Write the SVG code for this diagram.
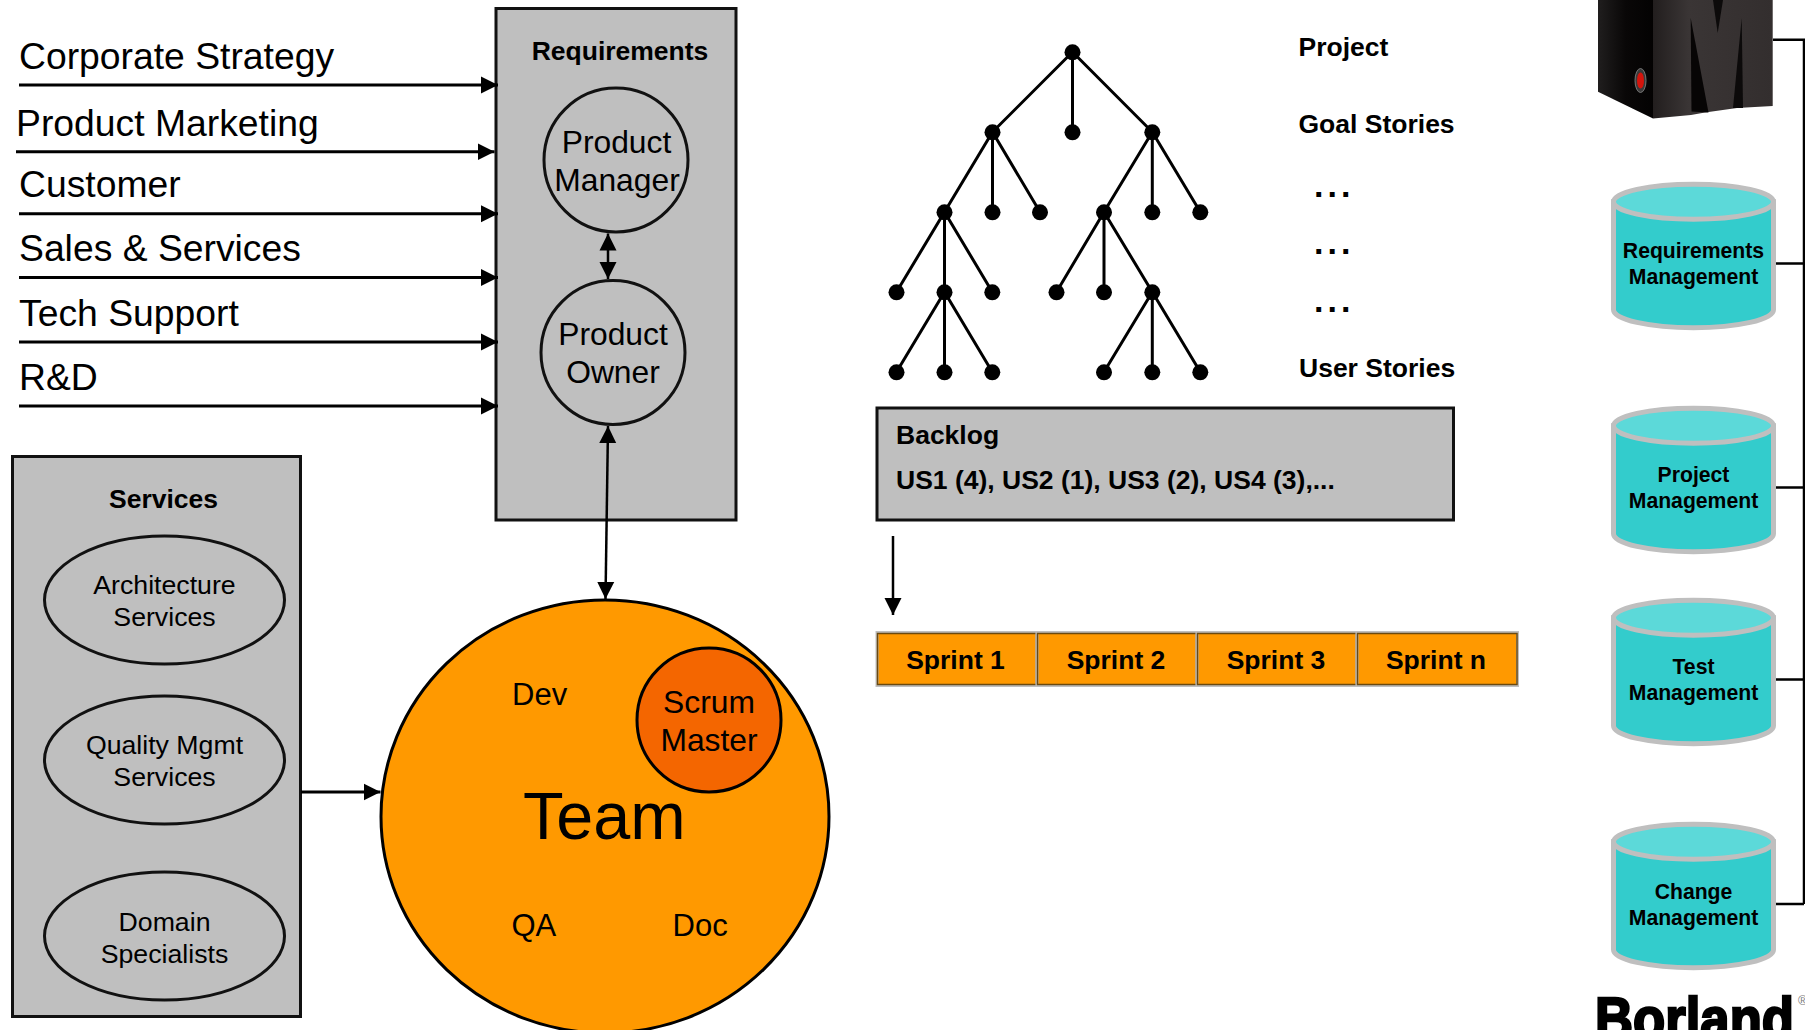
<svg xmlns="http://www.w3.org/2000/svg" width="1805" height="1030" viewBox="0 0 1805 1030">
<style>
text{font-family:"Liberation Sans",Arial,sans-serif;fill:#000}
.big{font-size:37.3px}
.b{font-weight:bold;font-size:26.5px}
.m{font-size:31.8px;text-anchor:middle}
.s{font-size:26.7px;text-anchor:middle}
.c{font-weight:bold;font-size:21.2px;text-anchor:middle}
.mid{text-anchor:middle}
.dd{font-size:34px;font-weight:bold;letter-spacing:4px}
.box{fill:#BFBFBF;stroke:#111;stroke-width:3}
.oval{fill:#BFBFBF;stroke:#111;stroke-width:3}
.sp{fill:#FF9900;stroke:#BFBFBF;stroke-width:3}
.spi{fill:none;stroke:#6B4A10;stroke-width:1.5}
.cb{fill:#33CCCC;stroke:#BFBFBF;stroke-width:5}
.ct{fill:#5CD9D9;stroke:#BFBFBF;stroke-width:5}
.dot{fill:#000}
.e{stroke:#000;stroke-width:3;fill:none}
.a{stroke:#000;stroke-width:3;fill:none;marker-end:url(#ah)}
.d{stroke:#000;stroke-width:2.5;fill:none;marker-start:url(#ah);marker-end:url(#ah)}
.cn{stroke:#000;stroke-width:2.5;fill:none}
</style>
<defs>
<marker id="ah" markerUnits="userSpaceOnUse" markerWidth="18" markerHeight="18" refX="17" refY="9" orient="auto-start-reverse" viewBox="0 0 18 18"><path d="M0 0.5L17 9L0 17.5Z" fill="#000"/></marker>
<linearGradient id="lf" x1="0" x2="1" y1="0" y2="0"><stop offset="0" stop-color="#201e1e"/><stop offset="0.45" stop-color="#090707"/><stop offset="1" stop-color="#020101"/></linearGradient>
<linearGradient id="ff" x1="0" x2="1" y1="0" y2="0"><stop offset="0" stop-color="#221e1e"/><stop offset="0.3" stop-color="#3a3535"/><stop offset="1" stop-color="#332e2e"/></linearGradient>
<g id="cyl">
<path class="cb" d="M1613.5 20V128A80 18 0 0 0 1773.5 128V20Z"/>
<ellipse class="ct" cx="1693.5" cy="20" rx="80" ry="17.5"/>
</g>
</defs>
<rect width="1805" height="1030" fill="#fff"/>

<g id="labels-in">
<text class="big" x="19" y="69">Corporate Strategy</text>
<text class="big" x="16" y="136">Product Marketing</text>
<text class="big" x="19" y="197">Customer</text>
<text class="big" x="19" y="261">Sales &amp; Services</text>
<text class="big" x="19" y="325.5">Tech Support</text>
<text class="big" x="19" y="389.5">R&amp;D</text>
</g>

<g id="requirements">
<rect class="box" x="496" y="8.5" width="240" height="511.5"/>
<text class="b mid" x="620" y="60">Requirements</text>
</g>
<g id="product-manager">
<circle class="oval" cx="616" cy="160" r="72"/>
<text class="m" x="616.5" y="153">Product</text>
<text class="m" x="617" y="191">Manager</text>
</g>
<g id="product-owner">
<circle class="oval" cx="613" cy="352.5" r="72"/>
<text class="m" x="613" y="345">Product</text>
<text class="m" x="613" y="383">Owner</text>
</g>

<g id="services">
<rect class="box" x="12.5" y="456.5" width="288" height="560"/>
<text class="b mid" x="163.5" y="507.5">Services</text>
</g>
<g id="architecture-services">
<ellipse class="oval" cx="164.5" cy="600" rx="120" ry="64"/>
<text class="s" x="164.5" y="594">Architecture</text>
<text class="s" x="164.5" y="626">Services</text>
</g>
<g id="quality-services">
<ellipse class="oval" cx="164.5" cy="760" rx="120" ry="64"/>
<text class="s" x="164.5" y="754">Quality Mgmt</text>
<text class="s" x="164.5" y="786">Services</text>
</g>
<g id="domain-specialists">
<ellipse class="oval" cx="164.5" cy="936" rx="120" ry="64"/>
<text class="s" x="164.5" y="931">Domain</text>
<text class="s" x="164.5" y="963">Specialists</text>
</g>

<g id="team">
<ellipse cx="605" cy="816.5" rx="224" ry="216.5" fill="#FF9900" stroke="#000" stroke-width="3"/>
<text x="523" y="839" font-size="66.5">Team</text>
<text x="512" y="705" font-size="31">Dev</text>
<text x="511.5" y="936" font-size="31">QA</text>
<text x="672.5" y="936" font-size="31">Doc</text>
</g>
<g id="scrum-master">
<circle cx="709" cy="720" r="72" fill="#F46600" stroke="#000" stroke-width="3"/>
<text class="m" x="709" y="713">Scrum</text>
<text class="m" x="709" y="751">Master</text>
</g>

<g id="backlog">
<rect class="box" x="877" y="408" width="576.5" height="112"/>
<text class="b" x="896" y="444">Backlog</text>
<text class="b" x="896" y="489">US1 (4), US2 (1), US3 (2), US4 (3),...</text>
</g>
<g id="sprint-1">
<rect class="sp" x="877" y="632.5" width="160" height="53"/><rect class="spi" x="877.5" y="633.5" width="159" height="51"/>
<text class="b mid" x="955.5" y="669">Sprint 1</text>
</g>
<g id="sprint-2">
<rect class="sp" x="1037" y="632.5" width="160" height="53"/><rect class="spi" x="1037.5" y="633.5" width="159" height="51"/>
<text class="b mid" x="1116" y="669">Sprint 2</text>
</g>
<g id="sprint-3">
<rect class="sp" x="1197" y="632.5" width="160" height="53"/><rect class="spi" x="1197.5" y="633.5" width="159" height="51"/>
<text class="b mid" x="1276" y="669">Sprint 3</text>
</g>
<g id="sprint-n">
<rect class="sp" x="1357" y="632.5" width="160.5" height="53"/><rect class="spi" x="1357.5" y="633.5" width="159.5" height="51"/>
<text class="b mid" x="1436" y="669">Sprint n</text>
</g>

<g id="levels">
<text class="b" x="1298.5" y="56">Project</text>
<text class="b" x="1298.5" y="133">Goal Stories</text>
<text class="dd" x="1314" y="196.5">...</text>
<text class="dd" x="1314" y="254">...</text>
<text class="dd" x="1314" y="311.5">...</text>
<text class="b" x="1299" y="377">User Stories</text>
</g>

<g id="connectors">
<path class="a" d="M19 85H498"/>
<path class="a" d="M16 151.7H494.5"/>
<path class="a" d="M19 213.8H498"/>
<path class="a" d="M19 277.6H498"/>
<path class="a" d="M19 342H498"/>
<path class="a" d="M19 406H498"/>
<path class="d" d="M608 233.5V279"/>
<path class="d" d="M608 426L605.5 599"/>
<path class="a" d="M301 792H380.5"/>
<path class="a" style="stroke-width:2.5" d="M893 536V615"/>
<path class="cn" d="M1773 39.7H1804V904M1773 263.5H1804M1773 487.5H1804M1773 679.5H1804M1773 904H1804"/>
<path class="e" d="M1072.5 52V132M1072.5 52L992.5 132M1072.5 52L1152.3 132M992.5 132V212M992.5 132L944.5 212M992.5 132L1040 212M1152.3 132V212M1152.3 132L1104 212M1152.3 132L1200.3 212M944.5 212V372M944.5 212L896.5 292M944.5 212L992.3 292M1104 212V292M1104 212L1056.5 292M1104 212L1152.3 292M944.5 292L896.5 372M944.5 292L992.3 372M1152.3 292V372M1152.3 292L1104 372M1152.3 292L1200.3 372"/>
</g>

<g id="tree">
<g id="t0"><circle class="dot" cx="1072.5" cy="52.3" r="8"/></g>
<g id="t1"><circle class="dot" cx="992.5" cy="132.3" r="8"/></g>
<g id="t2"><circle class="dot" cx="1072.5" cy="132.3" r="8"/></g>
<g id="t3"><circle class="dot" cx="1152.3" cy="132.3" r="8"/></g>
<g id="t4"><circle class="dot" cx="944.5" cy="212.3" r="8"/></g>
<g id="t5"><circle class="dot" cx="992.5" cy="212.3" r="8"/></g>
<g id="t6"><circle class="dot" cx="1040" cy="212.3" r="8"/></g>
<g id="t7"><circle class="dot" cx="1104" cy="212.3" r="8"/></g>
<g id="t8"><circle class="dot" cx="1152.3" cy="212.3" r="8"/></g>
<g id="t9"><circle class="dot" cx="1200.3" cy="212.3" r="8"/></g>
<g id="t10"><circle class="dot" cx="896.5" cy="292.3" r="8"/></g>
<g id="t11"><circle class="dot" cx="944.5" cy="292.3" r="8"/></g>
<g id="t12"><circle class="dot" cx="992.3" cy="292.3" r="8"/></g>
<g id="t13"><circle class="dot" cx="1056.5" cy="292.3" r="8"/></g>
<g id="t14"><circle class="dot" cx="1104" cy="292.3" r="8"/></g>
<g id="t15"><circle class="dot" cx="1152.3" cy="292.3" r="8"/></g>
<g id="t16"><circle class="dot" cx="896.5" cy="372.3" r="8"/></g>
<g id="t17"><circle class="dot" cx="944.5" cy="372.3" r="8"/></g>
<g id="t18"><circle class="dot" cx="992.3" cy="372.3" r="8"/></g>
<g id="t19"><circle class="dot" cx="1104" cy="372.3" r="8"/></g>
<g id="t20"><circle class="dot" cx="1152.3" cy="372.3" r="8"/></g>
<g id="t21"><circle class="dot" cx="1200.3" cy="372.3" r="8"/></g>
</g>

<g id="cyl-requirements">
<use href="#cyl" y="181.7"/>
<text class="c" x="1693.5" y="258">Requirements</text>
<text class="c" x="1693.5" y="284">Management</text>
</g>
<g id="cyl-project">
<use href="#cyl" y="405.7"/>
<text class="c" x="1693.5" y="482">Project</text>
<text class="c" x="1693.5" y="508">Management</text>
</g>
<g id="cyl-test">
<use href="#cyl" y="597.7"/>
<text class="c" x="1693.5" y="674">Test</text>
<text class="c" x="1693.5" y="700">Management</text>
</g>
<g id="cyl-change">
<use href="#cyl" y="821.7"/>
<text class="c" x="1693.5" y="898.5">Change</text>
<text class="c" x="1693.5" y="924.5">Management</text>
</g>

<g id="server">
<path d="M1598 0V91.7L1653 118.5L1660 0Z" fill="url(#lf)"/>
<path d="M1653 0V118.5L1691 115L1705 112.5L1737 108L1772.7 106V0Z" fill="url(#ff)"/>
<path d="M1690.7 18L1708.5 112.5L1691.5 111.5Z" fill="#070505"/>
<path d="M1741.7 18L1733 108L1743 108Z" fill="#0c0a0a"/>
<path d="M1713 0H1723L1717.7 33Z" fill="#0c0a0a"/>
<ellipse cx="1640.5" cy="80.5" rx="5.5" ry="12" fill="#3a3a3a" stroke="#777" stroke-width="1"/>
<ellipse cx="1640.5" cy="80.5" rx="3.5" ry="8" fill="#D4140C"/>
</g>

<g id="borland">
<text x="1595" y="1039" font-size="60" font-weight="bold" textLength="199" lengthAdjust="spacingAndGlyphs" stroke="#000" stroke-width="2.5">Borland</text>
<text x="1798" y="1005" font-size="13" style="fill:#777">®</text>
</g>
</svg>
